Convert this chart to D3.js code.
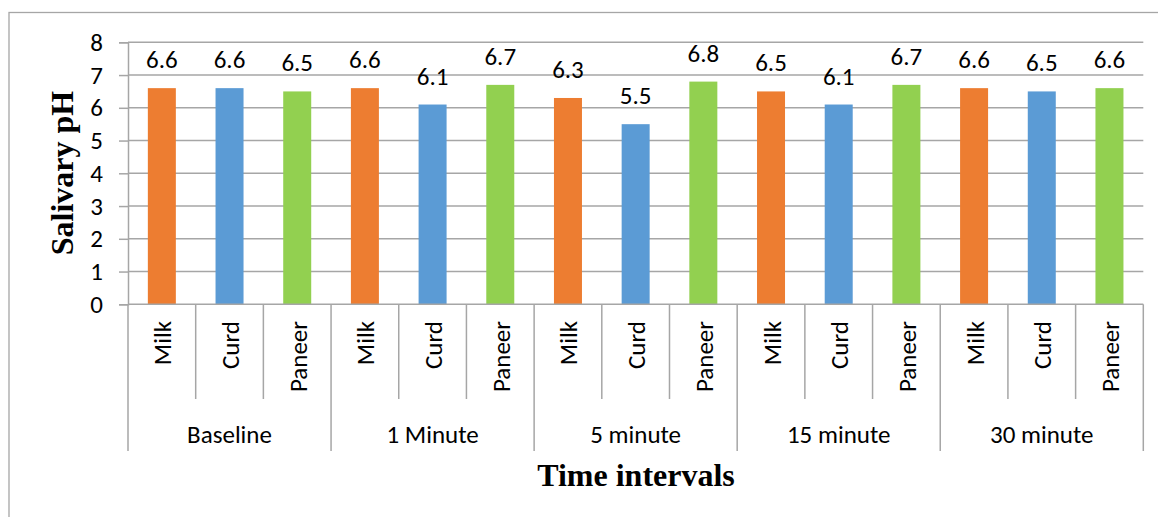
<!DOCTYPE html>
<html><head><meta charset="utf-8">
<script src="https://cdn.jsdelivr.net/npm/d3@7/dist/d3.min.js"></script>
<style>body{margin:0;background:#fff}svg{display:block}</style>
</head><body>
<svg id="c" width="1158" height="517"></svg>
<script>
const groups = ["Baseline", "1 Minute", "5 minute", "15 minute", "30 minute"];
const products = ["Milk", "Curd", "Paneer"];
const milk = [6.6, 6.6, 6.3, 6.5, 6.6];
const curd = [6.6, 6.1, 5.5, 6.1, 6.5];
const paneer = [6.5, 6.7, 6.8, 6.7, 6.6];
const yTicks = [0, 1, 2, 3, 4, 5, 6, 7, 8];
const colors = {Milk: "#ED7D31", Curd: "#5B9BD5", Paneer: "#92D050"};

const seriesVals = {Milk: milk, Curd: curd, Paneer: paneer};
const rows = [];
groups.forEach((g, gi) => products.forEach(p => rows.push({g, p, key: g + "|" + p, v: seriesVals[p][gi]})));

const svg = d3.select("#c");
const font = "Calibri, Carlito, Lato, sans-serif";
const serif = "'Times New Roman', 'Liberation Serif', serif";
const pLeft = 128, pRight = 1143.3, pTop = 42.3, pBottom = 304.3;
const grid = "#A6A6A6";

// outer frame
svg.append("rect").attr("x", 9).attr("y", 12.5).attr("width", 1160).attr("height", 520)
  .attr("fill", "none").attr("stroke", "#A6A6A6").attr("stroke-width", 1.3);

const y = d3.scaleLinear().domain([0, 8]).range([pBottom, pTop]);
const x = d3.scaleBand().domain(rows.map(d => d.key)).range([pLeft, pRight]).paddingInner(0).paddingOuter(0);
const xg = d3.scaleBand().domain(groups).range([pLeft, pRight]);
const bw = 28;

// gridlines
svg.append("g").selectAll("line").data(yTicks.filter(t => t > 0)).join("line")
  .attr("x1", pLeft).attr("x2", pRight).attr("y1", d => y(d)).attr("y2", d => y(d))
  .attr("stroke", grid).attr("stroke-width", 1.5);

// y axis
const ya = svg.append("g").attr("transform", `translate(${pLeft},0)`)
  .call(d3.axisLeft(y).tickValues(yTicks).tickSize(9).tickPadding(16));
ya.select(".domain").attr("stroke", grid).attr("stroke-width", 1.5);
ya.selectAll(".tick line").attr("stroke", grid).attr("stroke-width", 1.5);
ya.selectAll(".tick text").attr("font-family", font).attr("font-size", 25).attr("fill", "#000");

// bars
svg.append("g").selectAll("rect").data(rows).join("rect")
  .attr("x", d => x(d.key) + (x.bandwidth() - bw) / 2).attr("width", bw)
  .attr("y", d => y(d.v)).attr("height", d => y(0) - y(d.v))
  .attr("fill", d => colors[d.p]);

// data labels
svg.append("g").selectAll("text").data(rows).join("text")
  .attr("x", d => x(d.key) + x.bandwidth() / 2).attr("y", d => y(d.v) - 20)
  .attr("text-anchor", "middle").attr("font-family", font).attr("font-size", 25).attr("fill", "#000")
  .text(d => d.v.toFixed(1));

// x axis baseline
svg.append("line").attr("x1", pLeft).attr("x2", pRight).attr("y1", pBottom).attr("y2", pBottom)
  .attr("stroke", grid).attr("stroke-width", 1.5);

// inner separators
const innerB = rows.map((d, i) => i).filter(i => i % 3 !== 0).map(i => x(rows[i].key));
svg.append("g").selectAll("line").data(innerB).join("line")
  .attr("x1", d => d).attr("x2", d => d).attr("y1", pBottom).attr("y2", 399)
  .attr("stroke", grid).attr("stroke-width", 1.5);
const groupB = groups.map(g => xg(g)).concat([pRight]);
svg.append("g").selectAll("line").data(groupB).join("line")
  .attr("x1", d => d).attr("x2", d => d).attr("y1", pBottom).attr("y2", 451)
  .attr("stroke", grid).attr("stroke-width", 1.5);

// product labels (rotated)
svg.append("g").selectAll("text").data(rows).join("text")
  .attr("transform", d => `translate(${x(d.key) + x.bandwidth() / 2 + 9.5},321) rotate(-90)`)
  .attr("text-anchor", "end").attr("font-family", font).attr("font-size", 25).attr("fill", "#000")
  .text(d => d.p);

// group labels
svg.append("g").selectAll("text").data(groups).join("text")
  .attr("x", d => xg(d) + xg.bandwidth() / 2).attr("y", 443)
  .attr("text-anchor", "middle").attr("font-family", font).attr("font-size", 25).attr("fill", "#000")
  .text(d => d);

// axis titles
svg.append("text").attr("x", 636).attr("y", 486).attr("text-anchor", "middle")
  .attr("font-family", serif).attr("font-weight", "bold")
  .attr("font-size", 32).attr("fill", "#000").text("Time intervals");
svg.append("text").attr("transform", "translate(73,173) rotate(-90)").attr("text-anchor", "middle")
  .attr("font-family", serif).attr("font-weight", "bold")
  .attr("font-size", 32).attr("fill", "#000").text("Salivary pH");
</script>
</body></html>
